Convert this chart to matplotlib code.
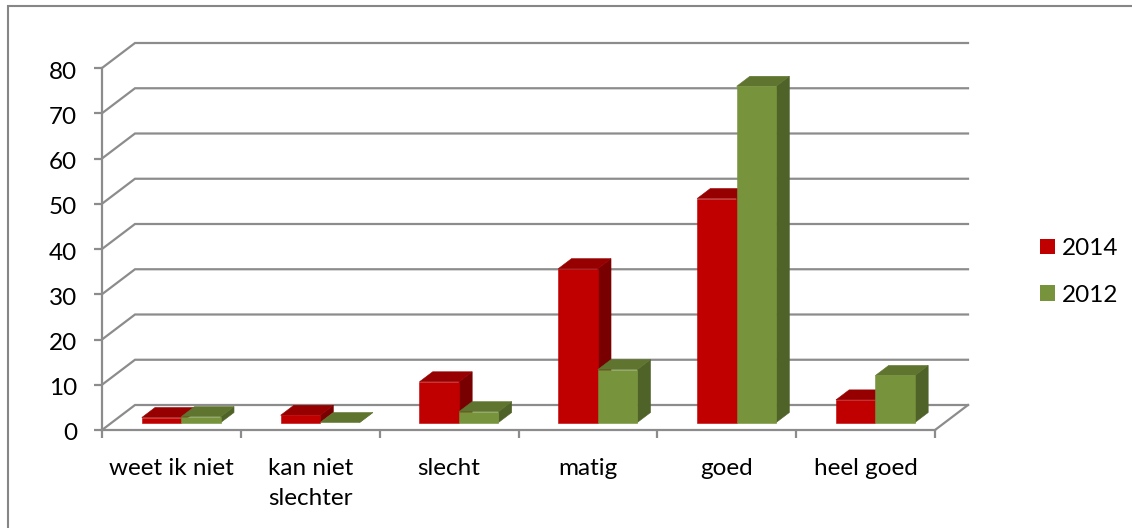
import matplotlib
matplotlib.use("Agg")
import matplotlib.pyplot as plt
from matplotlib.patches import Polygon, Rectangle
from matplotlib.transforms import ScaledTranslation

categories = ['weet ik niet', 'kan niet\nslechter', 'slecht', 'matig', 'goed', 'heel goed']
values_2014 = [1.1, 1.6, 9.0, 34.0, 49.5, 5.0]
values_2012 = [1.3, 0.0, 2.4, 11.7, 74.3, 10.4]
y_ticks = [0, 10, 20, 30, 40, 50, 60, 70, 80]

W, H = 1132, 528
FS = 17.5
plt.rcParams['font.family'] = ['Lato', 'DejaVu Sans']

GRID = '#8c8c8c'
# front, top, side
RED = ('#c00000', '#960000', '#780000')
GREEN = ('#77933c', '#5f752f', '#4f6228')

fig = plt.figure(figsize=(W / 100, H / 100), dpi=100)

# the outer frame of the chart, only left and top are inside the picture
fig.add_artist(Rectangle((7.5 / W, -0.02), 1.02, 1.02 - 5.5 / H, transform=fig.transFigure,
                         fill=False, ec='#868686', lw=1.5))

# axes = the front plane of the 3d box, pixel position from the reference
ax = fig.add_axes([102 / W, (H - 430) / H, (935 - 102) / W, (430 - 68) / H])
ax.set_xlim(0, 6)
ax.set_ylim(0, 80)
ax.patch.set_visible(False)
for s in ['top', 'right']:
    ax.spines[s].set_visible(False)
for s in ['left', 'bottom']:
    ax.spines[s].set_color(GRID)
    ax.spines[s].set_linewidth(1.6)

# depth of the box, in axis units (33 px right, 25 px up)
box_dx = 33 / (833 / 6)
box_dy = 25 / (362 / 80)

# walls
for v in y_ticks:
    ax.plot([0, box_dx, 6 + box_dx], [v, v + box_dy, v + box_dy], color=GRID, lw=1.6,
            clip_on=False, solid_joinstyle='miter', zorder=1)
ax.plot([6, 6 + box_dx], [0, box_dy], color=GRID, lw=1.6, clip_on=False, zorder=1)

# bars sit 30% to 70% back on the floor
bar_w = 39.5 / (833 / 6)
d0, d1 = 0.3, 0.7


def draw_bar(x, v, cols, z):
    x0 = x + d0 * box_dx
    y0 = d0 * box_dy
    ddx = (d1 - d0) * box_dx
    ddy = (d1 - d0) * box_dy
    x1 = x0 + bar_w
    y1 = y0 + v
    edge = dict(clip_on=False, zorder=z, lw=0.4)
    ax.add_patch(Polygon([(x1, y0), (x1 + ddx, y0 + ddy), (x1 + ddx, y1 + ddy), (x1, y1)],
                         fc=cols[2], ec=cols[2], **edge))
    ax.add_patch(Polygon([(x0, y1), (x1, y1), (x1 + ddx, y1 + ddy), (x0 + ddx, y1 + ddy)],
                         fc=cols[1], ec=cols[1], **edge))
    if v > 0:
        ax.add_patch(Polygon([(x0, y0), (x1, y0), (x1, y1), (x0, y1)],
                             fc=cols[0], ec=cols[0], **edge))


for i in range(len(categories)):
    left = i + 0.5 - bar_w
    draw_bar(left, values_2014[i], RED, 3 + i)
    draw_bar(left + bar_w, values_2012[i], GREEN, 3.5 + i)

ax.set_yticks(y_ticks)
ax.set_xticks(range(7))
ax.set_xticklabels([])
ax.set_xticks([i + 0.5 for i in range(6)], categories, minor=True, linespacing=1.55)
ax.tick_params(axis='x', which='major', color=GRID, width=1.6, length=5.8, direction='out')
ax.tick_params(axis='x', which='minor', length=0, pad=20, labelsize=FS, labelcolor='black')
ax.tick_params(axis='y', color=GRID, width=1.6, length=5.8, pad=12, labelsize=FS, labelcolor='black')

# y labels sit a little lower than the ticks
shift = ScaledTranslation(0, -2 / 100, fig.dpi_scale_trans)
for lab in ax.get_yticklabels():
    lab.set_transform(lab.get_transform() + shift)

# legend
leg_handles = [Rectangle((0, 0), 1, 1, fc=RED[0]), Rectangle((0, 0), 1, 1, fc=GREEN[0])]
fig.legend(leg_handles, ['2014', '2012'], loc='upper left', bbox_to_anchor=(1040 / W, (H - 238) / H),
           frameon=False, fontsize=FS, handlelength=0.62, handleheight=0.62, handletextpad=0.26,
           labelspacing=1.05, borderpad=0, borderaxespad=0)

fig.savefig('out.png', dpi=100)
